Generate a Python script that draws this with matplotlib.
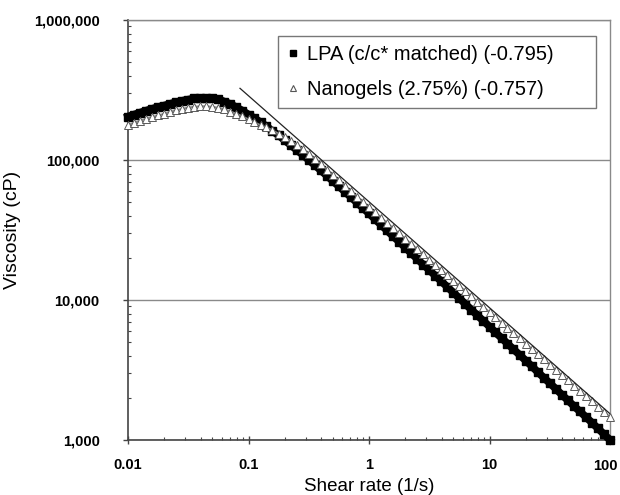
import numpy as np
import matplotlib
matplotlib.use("Agg")
import matplotlib.pyplot as plt
from matplotlib.lines import Line2D
from matplotlib.ticker import FixedLocator, NullFormatter

plt.rcParams['font.family'] = ['Liberation Sans', 'DejaVu Sans']

# shear rate (1/s), 20 readings per decade from 0.01 to 100
shear_rate = [
    0.01, 0.0112, 0.0126, 0.0141, 0.0158, 0.0178, 0.02, 0.0224, 0.0251, 0.0282,
    0.0316, 0.0355, 0.0398, 0.0447, 0.0501, 0.0562, 0.0631, 0.0708, 0.0794, 0.0891,
    0.1, 0.112, 0.126, 0.141, 0.158, 0.178, 0.2, 0.224, 0.251, 0.282,
    0.316, 0.355, 0.398, 0.447, 0.501, 0.562, 0.631, 0.708, 0.794, 0.891,
    1.0, 1.12, 1.26, 1.41, 1.58, 1.78, 2.0, 2.24, 2.51, 2.82,
    3.16, 3.55, 3.98, 4.47, 5.01, 5.62, 6.31, 7.08, 7.94, 8.91,
    10.0, 11.2, 12.6, 14.1, 15.8, 17.8, 20.0, 22.4, 25.1, 28.2,
    31.6, 35.5, 39.8, 44.7, 50.1, 56.2, 63.1, 70.8, 79.4, 89.1,
    100.0,
]

# viscosity (cP)
lpa_visc = [
    204000, 211000, 218000, 225000, 232000, 239000, 245000, 252000, 259000, 265000,
    270000, 275000, 277000, 278000, 276000, 272000, 261000, 251000, 238000, 225000,
    211000, 199000, 186000, 174000, 161000, 150000, 138000, 128000, 118000, 109000,
    100000, 92000, 84300, 77300, 70800, 64900, 59400, 54300, 49700, 45400,
    41500, 37800, 34400, 31400, 28600, 26100, 23700, 21600, 19700, 17900,
    16400, 14900, 13600, 12400, 11300, 10300, 9350, 8530, 7760, 7080,
    6460, 5870, 5350, 4880, 4450, 4050, 3690, 3370, 3060, 2790,
    2550, 2320, 2110, 1920, 1750, 1600, 1460, 1330, 1210, 1100,
    1000,
]

nano_visc = [
    178000, 184000, 191000, 197000, 203000, 208000, 214000, 221000, 227000, 232000,
    237000, 240000, 242000, 242000, 240000, 236000, 230000, 222000, 214000, 205000,
    195000, 186000, 177000, 171000, 163000, 154000, 146000, 137000, 129000, 120000,
    111000, 102000, 93300, 85500, 78200, 71600, 65300, 59800, 54800, 50200,
    46000, 42300, 38700, 35600, 32600, 29900, 27400, 25200, 23100, 21200,
    19400, 17800, 16300, 15000, 13700, 12600, 11600, 10600, 9730, 8930,
    8190, 7520, 6890, 6320, 5790, 5320, 4880, 4480, 4100, 3770,
    3450, 3170, 2900, 2670, 2440, 2240, 2060, 1890, 1730, 1590,
    1460,
]

# power-law fit drawn for the nanogels
fit_exponent = -0.757
fit_k = 50300
fit_range = [0.085, 100]

labels = ['LPA (c/c* matched) (-0.795)', 'Nanogels (2.75%) (-0.757)']
y_ticks = [1000, 10000, 100000, 1000000]
y_ticklabels = ['1,000', '10,000', '100,000', '1,000,000']
x_ticks = [0.01, 0.1, 1, 10, 100]
x_ticklabels = ['0.01', '0.1', '1', '10', '100']

fig = plt.figure(figsize=(6.2, 4.95), dpi=100)
ax = fig.add_axes([128 / 620, 1 - 440 / 495, 482 / 620, 420 / 495])
ax.set_xscale('log')
ax.set_yscale('log')
ax.set_xlim(0.01, 100)
ax.set_ylim(1000, 1000000)

# grid lines at the decades
ax.yaxis.grid(True, which='major', color='#8a8a8a', lw=1.0)
ax.set_axisbelow(True)

ax.plot(shear_rate, lpa_visc, color='black', lw=5.5, marker='s', ms=5.2,
        mec='black', mfc='black', zorder=3, clip_on=False)
ax.plot(shear_rate, nano_visc, color='#8c8c8c', lw=1.4, marker='^', ms=5.6,
        mec='#5a5a5a', mfc='white', mew=0.7, zorder=4, clip_on=False)

fx = np.array(fit_range)
ax.plot(fx, fit_k * fx ** fit_exponent, color='#222222', lw=0.9, zorder=5)

ax.yaxis.set_major_locator(FixedLocator(y_ticks))
ax.set_yticklabels(y_ticklabels, fontsize=10.5, fontweight='bold')
ax.xaxis.set_major_locator(FixedLocator(x_ticks))
# the last label is drawn separately so it can sit a little to the left
ax.set_xticklabels(x_ticklabels[:-1] + [''], fontsize=10.5, fontweight='bold')
ax.yaxis.set_minor_formatter(NullFormatter())
ax.xaxis.set_minor_formatter(NullFormatter())

ax.annotate(x_ticklabels[-1], xy=(x_ticks[-1], 0),
            xycoords=('data', 'axes fraction'), xytext=(-3, -14),
            textcoords='offset points', ha='center', va='top',
            fontsize=10.5, fontweight='bold', annotation_clip=False)

ax.tick_params(axis='y', which='major', direction='out', length=3.5, width=1,
               pad=17, color='#444444')
ax.tick_params(axis='y', which='minor', direction='in', length=2.5, width=0.8,
               color='#444444')
ax.tick_params(axis='x', which='major', direction='inout', length=6, width=1,
               pad=10, color='#444444')
ax.tick_params(axis='x', which='minor', direction='in', length=2.5, width=0.8,
               color='#444444')

for side in ['left', 'bottom']:
    ax.spines[side].set_color('#444444')
    ax.spines[side].set_linewidth(1.2)
for side in ['top', 'right']:
    ax.spines[side].set_color('#8a8a8a')
    ax.spines[side].set_linewidth(1.0)

ax.set_xlabel('Shear rate (1/s)', fontsize=13.5, labelpad=4)
ax.set_ylabel('Viscosity (cP)', fontsize=14, labelpad=9)

handles = [
    Line2D([], [], ls='none', marker='s', ms=4, color='black'),
    Line2D([], [], ls='none', marker='^', ms=4.5, mec='#555555', mfc='white',
           mew=0.8),
]
leg = ax.legend(handles, labels, loc='upper left', mode='expand',
                bbox_to_anchor=(0.311, 0.783, 0.66, 0.179), borderaxespad=0,
                fontsize=14.5, frameon=True, fancybox=False, handlelength=0.6,
                handletextpad=0.4, labelspacing=0.8, borderpad=0.45)
leg.get_frame().set_edgecolor('#555555')
leg.get_frame().set_linewidth(1.0)

fig.savefig('out.png', dpi=100)
